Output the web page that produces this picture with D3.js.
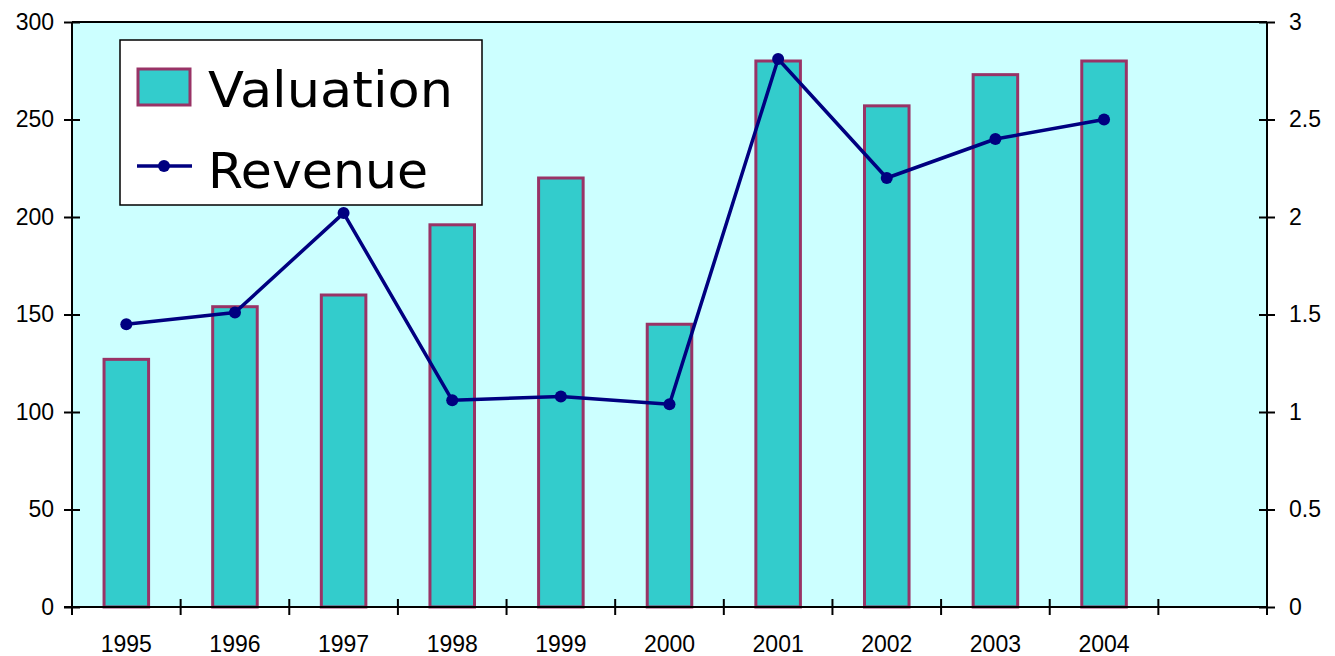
<!DOCTYPE html>
<html>
<head>
<meta charset="utf-8">
<script src="https://cdn.jsdelivr.net/npm/d3@7"></script>
<style>
  html, body { margin: 0; padding: 0; background: #ffffff; }
  svg { display: block; }
</style>
</head>
<body>
<svg id="chart" width="1335" height="656"></svg>
<script>
// Yearly figures
const years = ["1995","1996","1997","1998","1999","2000","2001","2002","2003","2004"];
const valuation = [127, 154, 160, 196, 220, 145, 280, 257, 273, 280];
const revenue = [1.45, 1.51, 2.02, 1.06, 1.08, 1.04, 2.81, 2.20, 2.40, 2.50];
const leftTicks = [0, 50, 100, 150, 200, 250, 300];
const rightTicks = [0, 0.5, 1, 1.5, 2, 2.5, 3];

const svg = d3.select("#chart");
const m = { left: 72, right: 1267, top: 22, bottom: 607 };

// One extra empty slot after the last year
const slots = years.concat([""]);
const x = d3.scaleBand().domain(slots).range([m.left, m.right]).padding(0);
const yL = d3.scaleLinear().domain([0, 300]).range([m.bottom, m.top]);
const yR = d3.scaleLinear().domain([0, 3]).range([m.bottom, m.top]);

// Plot background
svg.append("rect")
  .attr("x", m.left).attr("y", m.top)
  .attr("width", m.right - m.left).attr("height", m.bottom - m.top)
  .attr("fill", "#ccffff");

// Top border
svg.append("line")
  .attr("x1", m.left).attr("x2", m.right)
  .attr("y1", m.top).attr("y2", m.top)
  .attr("stroke", "#000").attr("stroke-width", 2);

// Bars
const barW = x.bandwidth() * 0.41;
svg.append("g").selectAll("rect")
  .data(years.map((y, i) => ({ year: y, v: valuation[i] })))
  .join("rect")
  .attr("x", d => x(d.year) + (x.bandwidth() - barW) / 2)
  .attr("y", d => yL(d.v))
  .attr("width", barW)
  .attr("height", d => yL(0) - yL(d.v))
  .attr("fill", "#33cccc")
  .attr("stroke", "#993366")
  .attr("stroke-width", 3);

// Revenue line
const pts = years.map((y, i) => [x(y) + x.bandwidth() / 2, yR(revenue[i])]);
svg.append("path")
  .attr("d", d3.line()(pts))
  .attr("fill", "none")
  .attr("stroke", "#000080")
  .attr("stroke-width", 3.5)
  .attr("stroke-linejoin", "round");
svg.append("g").selectAll("circle")
  .data(pts).join("circle")
  .attr("cx", d => d[0]).attr("cy", d => d[1]).attr("r", 6)
  .attr("fill", "#000080");

const font = "'Liberation Sans', Arial, sans-serif";
const fs = 23;

// Left axis
const axL = svg.append("g").attr("transform", `translate(${m.left},0)`)
  .call(d3.axisLeft(yL).tickValues(leftTicks).tickSize(8).tickPadding(10).tickFormat(d3.format("d")));
axL.selectAll(".tick line").attr("x2", -8).attr("x1", 8);
// Right axis
const axR = svg.append("g").attr("transform", `translate(${m.right},0)`)
  .call(d3.axisRight(yR).tickValues(rightTicks).tickSize(8).tickPadding(14).tickFormat(d => d3.format("")(d)));
axR.selectAll(".tick line").attr("x1", -8);
// Bottom axis: ticks on slot boundaries, labels centred in slots
const boundaries = slots.map(s => x(s)).concat([m.right]);
const axB = svg.append("g").attr("transform", `translate(0,${m.bottom})`);
axB.append("line").attr("x1", m.left - 8).attr("x2", m.right).attr("stroke", "#000").attr("stroke-width", 2);
axB.selectAll("line.tk").data(boundaries).join("line").attr("class", "tk")
  .attr("x1", d => d).attr("x2", d => d).attr("y1", -8).attr("y2", 8)
  .attr("stroke", "#000").attr("stroke-width", 2);
axB.selectAll("text").data(years).join("text")
  .attr("x", d => x(d) + x.bandwidth() / 2)
  .attr("y", 45)
  .attr("text-anchor", "middle")
  .attr("font-family", font).attr("font-size", fs).attr("fill", "#000")
  .text(d => d);

[axL, axR].forEach(ax => {
  ax.select(".domain").attr("stroke", "#000").attr("stroke-width", 2);
  ax.selectAll(".tick line").attr("stroke", "#000").attr("stroke-width", 2);
  ax.selectAll(".tick text").attr("font-family", font).attr("font-size", fs).attr("fill", "#000");
});
axL.select(".domain").attr("d", `M0,${m.top}V${m.bottom}`);
axR.select(".domain").attr("d", `M0,${m.top}V${m.bottom}`);

// Legend
const lg = svg.append("g").attr("transform", "translate(120,40)");
lg.append("rect").attr("x", 0).attr("y", 0).attr("width", 362).attr("height", 165)
  .attr("fill", "#fff").attr("stroke", "#000").attr("stroke-width", 1.5);
lg.append("rect").attr("x", 18).attr("y", 29).attr("width", 52).attr("height", 36)
  .attr("fill", "#33cccc").attr("stroke", "#993366").attr("stroke-width", 3);
lg.append("line").attr("x1", 17).attr("x2", 72).attr("y1", 126).attr("y2", 126)
  .attr("stroke", "#000080").attr("stroke-width", 3.5);
lg.append("circle").attr("cx", 44).attr("cy", 126).attr("r", 6).attr("fill", "#000080");
const lfont = "'DejaVu Sans', Verdana, sans-serif";
lg.append("text").attr("x", 88).attr("y", 67).attr("font-family", lfont).attr("font-size", 50)
  .attr("textLength", 245).attr("lengthAdjust", "spacingAndGlyphs").text("Valuation");
lg.append("text").attr("x", 88).attr("y", 148).attr("font-family", lfont).attr("font-size", 50)
  .attr("textLength", 220).attr("lengthAdjust", "spacingAndGlyphs").text("Revenue");
</script>
</body>
</html>
